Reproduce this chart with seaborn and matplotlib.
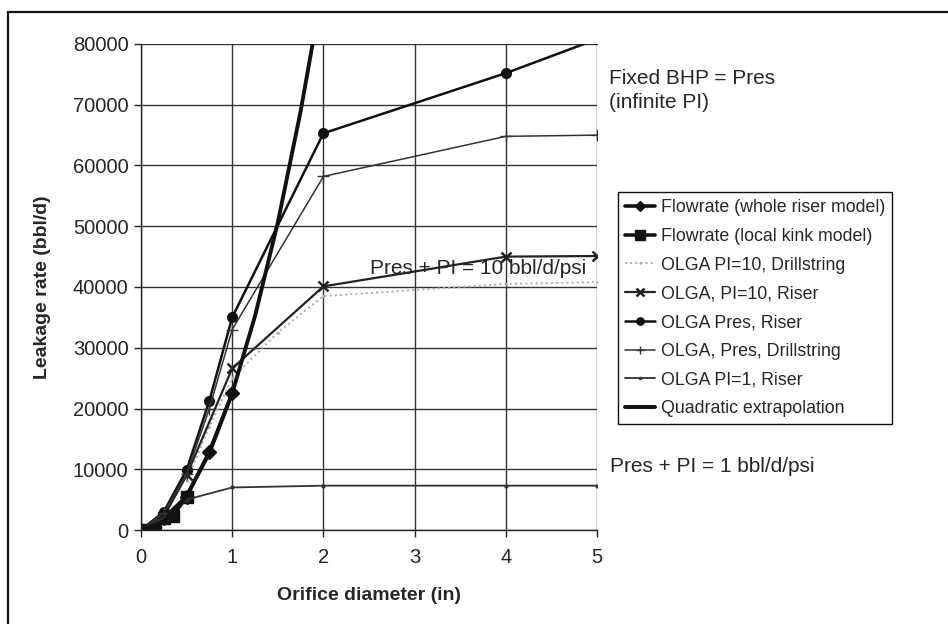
import matplotlib
matplotlib.use("Agg")
import matplotlib.pyplot as plt
import matplotlib.patches as mpatches
import seaborn as sns
import numpy as np

# ---- data ----
whole_x = [0, 0.25, 0.5, 0.75, 1.0]
whole_y = [0, 2000, 5500, 12900, 22500]

kink_x = [0, 0.15, 0.25, 0.35, 0.5]
kink_y = [0, 400, 2000, 2300, 5500]

pi10_ds_x = [0.5, 0.75, 1.0, 1.5, 2.0, 4.0, 5.0]
pi10_ds_y = [8000, 17000, 25000, 32500, 38500, 40500, 40800]

pi10_riser_x = [0, 0.25, 0.5, 1.0, 2.0, 4.0, 5.0]
pi10_riser_y = [0, 2200, 9000, 26600, 40100, 45000, 45100]

pres_riser_x = [0, 0.25, 0.5, 0.75, 1.0, 2.0, 4.0, 5.0]
pres_riser_y = [0, 3000, 9900, 21300, 35000, 65300, 75200, 80800]

pres_ds_x = [0, 0.25, 0.5, 0.75, 1.0, 2.0, 4.0, 5.0]
pres_ds_y = [0, 2800, 9200, 20000, 33000, 58200, 64800, 65000]

pi1_riser_x = [0, 0.25, 0.5, 1.0, 2.0, 4.0, 5.0]
pi1_riser_y = [0, 2000, 5000, 7000, 7300, 7300, 7300]

quad_x = [0, 0.25, 0.5, 0.75, 1.0, 1.25, 1.5, 1.75, 2.0]
quad_y = [0, 1400, 5600, 12700, 22500, 35200, 50600, 68900, 90000]

labels = ["Flowrate (whole riser model)", "Flowrate (local kink model)",
          "OLGA PI=10, Drillstring", "OLGA, PI=10, Riser", "OLGA Pres, Riser",
          "OLGA, Pres, Drillstring", "OLGA PI=1, Riser", "Quadratic extrapolation"]
x_ticks = [0, 1, 2, 3, 4, 5]
y_ticks = [0, 10000, 20000, 30000, 40000, 50000, 60000, 70000, 80000]

# ---- style ----
sns.set_style("white")
plt.rcParams['font.family'] = ['Liberation Sans', 'DejaVu Sans']

W, H = 948, 624
fig = plt.figure(figsize=(W / 100, H / 100), dpi=100)
ax = fig.add_axes([141 / W, 1 - 530 / H, (597 - 141) / W, (530 - 44) / H])

def fx(px):
    return px / W

def fy(py):
    return 1 - py / H

K = "#111111"
series = [
    (whole_x, whole_y, dict(marker="D", markersize=7, linewidth=2.6, color=K)),
    (kink_x, kink_y, dict(marker="s", markersize=9, linewidth=2.6, color=K)),
    (pi10_ds_x, pi10_ds_y, dict(marker=".", markersize=2, linewidth=1.4, color="#aaaaaa", linestyle=":")),
    (pi10_riser_x, pi10_riser_y, dict(marker="x", markersize=7, linewidth=1.6, color="#222222", markeredgewidth=1.8)),
    (pres_riser_x, pres_riser_y, dict(marker="o", markersize=7, linewidth=1.8, color=K)),
    (pres_ds_x, pres_ds_y, dict(marker="+", markersize=8, linewidth=1.1, color="#333333", markeredgewidth=1.0)),
    (pi1_riser_x, pi1_riser_y, dict(marker=".", markersize=4, linewidth=1.3, color="#333333")),
    (quad_x, quad_y, dict(marker=None, linewidth=2.8, color=K)),
]

for (xs, ys, kw), lab in zip(series, labels):
    kw = dict(kw)
    kw.setdefault("markeredgewidth", 1.0)
    kw["markeredgecolor"] = kw["color"]
    kw["markerfacecolor"] = kw["color"]
    sns.lineplot(x=xs, y=ys, ax=ax, label=lab, estimator=None, sort=False, **kw)

ax.set_xlim(0, 5)
ax.set_ylim(0, 80000)
ax.set_xticks(x_ticks)
ax.set_yticks(y_ticks)
ax.set_xticklabels([str(v) for v in x_ticks], fontsize=14.5)
ax.set_yticklabels([str(v) for v in y_ticks], fontsize=14.5)
ax.grid(True, color="#333333", linewidth=1.0)
ax.set_axisbelow(True)
for s in ["top", "right"]:
    ax.spines[s].set_visible(False)
for s in ["left", "bottom"]:
    ax.spines[s].set_color("#222222")
    ax.spines[s].set_linewidth(1.0)
ax.tick_params(axis="both", which="both", direction="out", length=5, width=1,
               color="#222222", pad=4, bottom=True, left=True)
ax.tick_params(axis="x", pad=8)

ax.set_xlabel("Orifice diameter (in)", fontsize=14, fontweight="bold", labelpad=14)
ax.set_ylabel("Leakage rate (bbl/d)", fontsize=14, fontweight="bold", labelpad=16)

# legend
leg = ax.legend(loc="upper left", bbox_to_anchor=(fx(618), fy(192)),
                bbox_transform=fig.transFigure, fontsize=12.8, frameon=True,
                fancybox=False, edgecolor="#111111", framealpha=1,
                handlelength=1.7, handletextpad=0.3, borderpad=0.4,
                labelspacing=0.66, borderaxespad=0, markerscale=0.75)
leg.get_frame().set_linewidth(1.0)

# annotations
fig.text(fx(609), fy(79), "Fixed BHP = Pres", fontsize=15, va="center", ha="left")
fig.text(fx(609), fy(103), "(infinite PI)", fontsize=15, va="center", ha="left")
fig.text(fx(370), fy(269), "Pres + PI = 10 bbl/d/psi", fontsize=15, va="center", ha="left")
fig.text(fx(610), fy(467), "Pres + PI = 1 bbl/d/psi", fontsize=15, va="center", ha="left")

# outer frame (right/bottom run off the image)
frame = mpatches.Rectangle((fx(8), -0.1), 1.2, fy(12) + 0.1, transform=fig.transFigure,
                           fill=False, edgecolor="#111111", linewidth=1.6, clip_on=False)
fig.patches.append(frame)

fig.savefig("out.png", dpi=100)
